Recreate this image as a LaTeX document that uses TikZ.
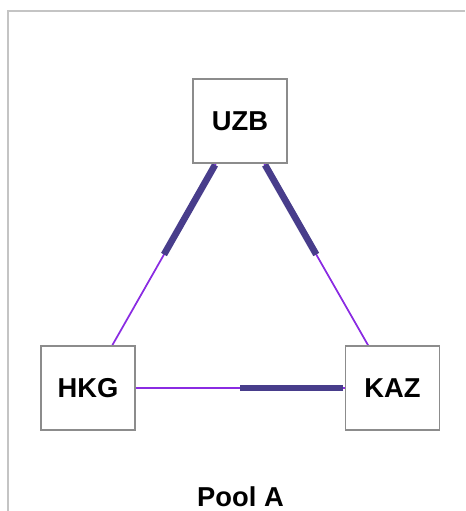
\documentclass[tikz,border=0pt]{standalone}
\usepackage{fontspec}
\setmainfont{Liberation Sans}
\usetikzlibrary{calc,backgrounds}
\definecolor{linkthin}{HTML}{8A2BE2}
\definecolor{linkthick}{HTML}{483D8B}
\definecolor{boxgray}{HTML}{8C8C8C}
\definecolor{framegray}{HTML}{C4C4C4}
\begin{document}
\begin{tikzpicture}[
        x=0.75pt, y=-0.75pt,
        country/.style={draw=boxgray, line width=1.1pt, fill=white, rectangle,
            minimum width=70.5pt, minimum height=63pt, inner sep=0pt,
            font=\fontsize{20.5}{24}\selectfont\bfseries},
        thinlink/.style={draw=linkthin, line width=1.3pt},
        thicklink/.style={draw=linkthick, line width=5pt, shorten <=1pt},
        framel/.style={draw=framegray, line width=1.1pt},
    ]
    \useasboundingbox (0,0) rectangle (465,511);
    \draw[framel] (8,511) -- (8,11) -- (465,11);
    \node[country](uzb) at (240,121){UZB};
    \node[country](hkg) at (88,388){HKG};
    \node[country](kaz) at (392.5,388){KAZ};
    \begin{scope}[on background layer]
    \draw[thinlink] (uzb) -- (hkg);
    \draw[thinlink] (uzb) -- (kaz);
    \draw[thinlink] (hkg) -- (kaz);
    \draw[thicklink] (uzb) -- ($(uzb)!0.5!(hkg)$);
    \draw[thicklink] (uzb) -- ($(uzb)!0.5!(kaz)$);
    \draw[thicklink] (kaz) -- ($(kaz)!0.5!(hkg)$);
    \end{scope}
    \node[anchor=base, inner sep=0pt, font=\fontsize{20.5}{24}\selectfont\bfseries](pool) at (240.5,506){Pool A};
\end{tikzpicture}
\end{document}
